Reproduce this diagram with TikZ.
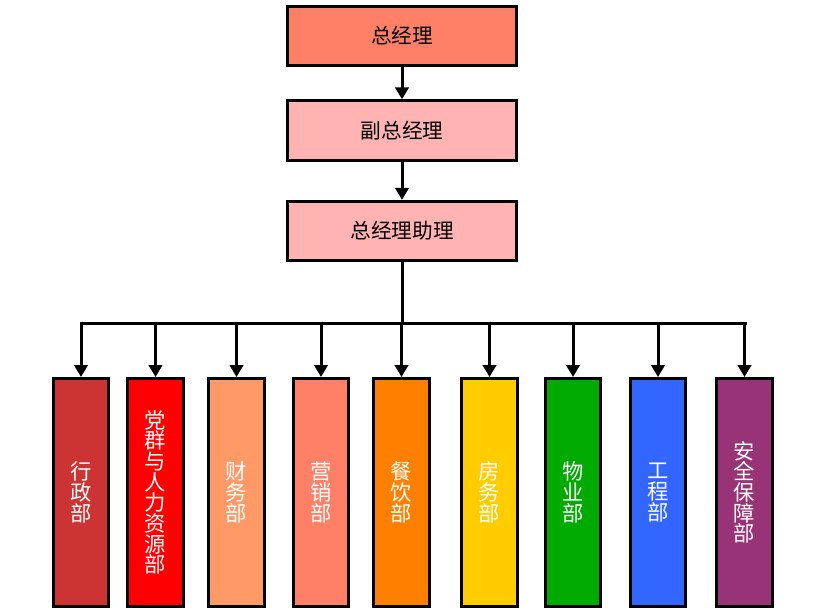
\documentclass[tikz,border=0pt]{standalone}
\usepackage{fontspec}
\setmainfont{Noto Sans CJK SC}
\usetikzlibrary{arrows.meta}

\definecolor{topred}{RGB}{255,128,102}
\definecolor{lightpink}{RGB}{255,179,179}
\definecolor{xzred}{RGB}{204,51,51}
\definecolor{dqred}{RGB}{255,0,0}
\definecolor{cwor}{RGB}{255,153,102}
\definecolor{yxsal}{RGB}{255,128,102}
\definecolor{cyor}{RGB}{255,128,0}
\definecolor{fwyel}{RGB}{255,204,0}
\definecolor{wygreen}{RGB}{0,170,0}
\definecolor{gcblue}{RGB}{51,102,255}
\definecolor{aqpurp}{RGB}{153,51,119}

\begin{document}
\begin{tikzpicture}[x=0.75pt,y=-0.75pt,
    topbox/.style={draw,line width=2.25pt,minimum width=172pt,minimum height=44.5pt,font=\fontsize{15.5}{17}\selectfont},
    deptbox/.style={draw,line width=2.25pt,minimum width=41.5pt,minimum height=171pt,inner sep=0pt,
        text=white,align=center,font=\fontsize{16}{15.5}\selectfont},
    arrow/.style={line width=2.25pt,-{Triangle[width=10pt,length=9pt]}}]
    \useasboundingbox (0,0) rectangle (827,616);

    % Management chain
    \node[topbox,fill=topred] (zjl) at (402,36) {总经理};
    \node[topbox,fill=lightpink] (fzjl) at (402,130.5) {副总经理};
    \node[topbox,fill=lightpink] (zjlzl) at (402,231) {总经理助理};
    \draw[arrow] (zjl) -- (fzjl);
    \draw[arrow] (fzjl) -- (zjlzl);

    % Bus line
    \coordinate (busL) at (81,323);
    \coordinate (busR) at (745,323);
    \draw[line width=2.25pt] (zjlzl.south) -- (zjlzl |- busL);
    \draw[line width=2.25pt,line cap=rect] (busL) -- (busR);

    % Departments
    \foreach \x/\col/\txt [count=\i] in {
        81/xzred/{行\\政\\部},
        155.5/dqred/{党\\群\\与\\人\\力\\资\\源\\部},
        236.5/cwor/{财\\务\\部},
        321/yxsal/{营\\销\\部},
        401.5/cyor/{餐\\饮\\部},
        489.5/fwyel/{房\\务\\部},
        573/wygreen/{物\\业\\部},
        658/gcblue/{工\\程\\部},
        744.5/aqpurp/{安\\全\\保\\障\\部}}
    {
        \node[deptbox,fill=\col] (d\i) at (\x,492.5) {\txt};
        \draw[arrow] (d\i |- busL) -- (d\i.north);
    }
\end{tikzpicture}
\end{document}
